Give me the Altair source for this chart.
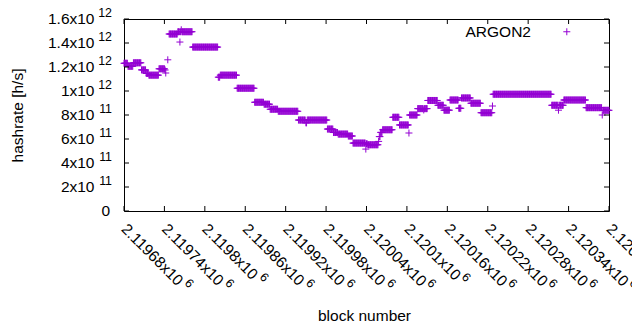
import altair as alt
import pandas as pd

# ---- data (hashrate in units of 1e12 h/s), constant runs of blocks ----
seg_start = [2119680, 2119686, 2119694, 2119706, 2119713, 2119717, 2119732, 2119747, 2119760,
             2119782, 2119820, 2119823, 2119848, 2119874, 2119888, 2119897, 2119909, 2119939,
             2119982, 2119991, 2119998, 2120013, 2120020, 2120039, 2120040, 2120042, 2120058,
             2120059, 2120061, 2120064, 2120079, 2120089, 2120103, 2120104, 2120116, 2120131,
             2120146, 2120155, 2120164, 2120177, 2120181, 2120195, 2120210, 2120227, 2120228,
             2120315, 2120333, 2120366, 2120390, 2120391]
seg_end = [2119685, 2119693, 2119705, 2119712, 2119716, 2119731, 2119740, 2119759, 2119781,
           2119819, 2119822, 2119847, 2119873, 2119887, 2119896, 2119908, 2119938, 2119981,
           2119990, 2119997, 2120012, 2120019, 2120038, 2120039, 2120041, 2120057, 2120058,
           2120060, 2120063, 2120078, 2120088, 2120102, 2120103, 2120115, 2120130, 2120145,
           2120154, 2120163, 2120176, 2120180, 2120194, 2120209, 2120226, 2120227, 2120314,
           2120332, 2120365, 2120389, 2120390, 2120400]
seg_value = [1.231, 1.206, 1.235, 1.176, 1.146, 1.132, 1.185, 1.475, 1.494,
             1.366, 1.115, 1.132, 1.023, 0.906, 0.890, 0.848, 0.831, 0.758,
             0.683, 0.654, 0.641, 0.625, 0.566, 0.516, 0.560, 0.552, 0.580,
             0.620, 0.655, 0.677, 0.781, 0.717, 0.650, 0.800, 0.853, 0.921,
             0.881, 0.840, 0.925, 0.856, 0.942, 0.898, 0.819, 0.875, 0.973,
             0.881, 0.925, 0.861, 0.800, 0.839]
# isolated single-block values
out_block = [2119741, 2119742, 2119745, 2119763, 2119765, 2119950, 2119951, 2120125, 2120325]
out_value = [1.175, 1.150, 1.260, 1.408, 1.510, 0.735, 0.735, 0.842, 0.840]

series_name = "ARGON2"

x_ticks = [2119680, 2119740, 2119800, 2119860, 2119920, 2119980, 2120040,
           2120100, 2120160, 2120220, 2120280, 2120340, 2120400]
x_tick_mant = ["2.11968x10", "2.11974x10", "2.1198x10", "2.11986x10", "2.11992x10",
               "2.11998x10", "2.12004x10", "2.1201x10", "2.12016x10", "2.12022x10",
               "2.12028x10", "2.12034x10", "2.1204x10"]
x_tick_exp = ["6"] * 13

y_ticks = [0, 2e11, 4e11, 6e11, 8e11, 1e12, 1.2e12, 1.4e12, 1.6e12]
y_tick_mant = ["0", "2x10", "4x10", "6x10", "8x10", "1x10", "1.2x10", "1.4x10", "1.6x10"]
y_tick_exp = ["", "11", "11", "11", "11", "12", "12", "12", "12"]

# ---- build tables ----
vals = {}
for s, e, v in zip(seg_start, seg_end, seg_value):
    for b in range(s, e + 1):
        vals[b] = v
for b, v in zip(out_block, out_value):
    vals[b] = v
df = pd.DataFrame({"block": list(vals.keys()),
                   "hashrate": [v * 1e12 for v in vals.values()],
                   "series": series_name})

tx = pd.DataFrame({"t": x_ticks, "mant": x_tick_mant, "exp": x_tick_exp,
                   "n": [len(m) for m in x_tick_mant]})
ty = pd.DataFrame({"t": y_ticks, "mant": y_tick_mant, "exp": y_tick_exp})

FONT = "Liberation Sans"
FS = 15.5
EFS = 12.4
PURPLE = "#9400d3"
PLUS = "M-1,0L1,0M0,-1L0,1"
# legend symbol drawn to the right of its label (gnuplot key style)
PLUS_KEY = "M31.3,0L33.3,0M32.3,-1L32.3,1"
W, H = 485, 192

xs = alt.Scale(domain=[2119680, 2120400], nice=False, zero=False)
ys = alt.Scale(domain=[0, 1.6e12], nice=False)

xax = alt.Axis(title="block number", labels=False, ticks=False, domain=False, grid=False,
               titleFont=FONT, titleFontSize=FS, titleFontWeight="normal", titleColor="black",
               titleX=240, titleY=104, titleAlign="center", titleBaseline="middle")
yax = alt.Axis(title="hashrate [h/s]", labels=False, ticks=False, domain=False, grid=False,
               titleFont=FONT, titleFontSize=FS, titleFontWeight="normal", titleColor="black",
               titleX=-107, titleY=96, titleAngle=270, titleAlign="center", titleBaseline="middle")

X = lambda f: alt.X(f, scale=xs, axis=xax)
Y = lambda f: alt.Y(f, scale=ys, axis=yax)

points = alt.Chart(df).mark_point(shape=PLUS, filled=False, size=49, strokeWidth=1, opacity=1).encode(
    x=X("block:Q"), y=Y("hashrate:Q"),
    color=alt.Color("series:N", scale=alt.Scale(range=[PURPLE]),
                    legend=alt.Legend(title=None, orient="none", legendX=322, legendY=5,
                                      symbolType=PLUS_KEY, symbolSize=49, symbolStrokeWidth=1,
                                      symbolStrokeColor=PURPLE, symbolFillColor="transparent",
                                      labelAlign="left", labelOffset=4,
                                      labelFont=FONT, labelFontSize=FS, labelColor="black",
                                      padding=0)))

base_x = alt.Chart(tx)
base_y = alt.Chart(ty)
tick_bottom = base_x.mark_rule(color="black", strokeWidth=1).encode(x=X("t:Q"), y=alt.value(H), y2=alt.value(H - 5))
tick_top = base_x.mark_rule(color="black", strokeWidth=1).encode(x=X("t:Q"), y=alt.value(0), y2=alt.value(5))
tick_left = base_y.mark_rule(color="black", strokeWidth=1).encode(y=Y("t:Q"), x=alt.value(0), x2=alt.value(5))
tick_right = base_y.mark_rule(color="black", strokeWidth=1).encode(y=Y("t:Q"), x=alt.value(W), x2=alt.value(W - 5))

xlab = base_x.mark_text(angle=45, align="left", baseline="middle", font=FONT, fontSize=FS,
                        color="black", dx=11, dy=11).encode(x=X("t:Q"), y=alt.value(H), text="mant:N")
xexp_long = base_x.transform_filter("datum.n >= 10").mark_text(
    angle=45, align="left", baseline="middle", font=FONT, fontSize=EFS, color="black",
    dx=94, dy=5).encode(x=X("t:Q"), y=alt.value(H), text="exp:N")
xexp_short = base_x.transform_filter("datum.n < 10").mark_text(
    angle=45, align="left", baseline="middle", font=FONT, fontSize=EFS, color="black",
    dx=85.5, dy=5).encode(x=X("t:Q"), y=alt.value(H), text="exp:N")

ylab = base_y.transform_filter("datum.exp != ''").mark_text(
    align="right", baseline="middle", font=FONT, fontSize=FS, color="black").encode(
    y=Y("t:Q"), x=alt.value(-29.5), text="mant:N")
yzero = base_y.transform_filter("datum.exp == ''").mark_text(
    align="right", baseline="middle", font=FONT, fontSize=FS, color="black").encode(
    y=Y("t:Q"), x=alt.value(-14), text="mant:N")
yexp = base_y.transform_filter("datum.exp != ''").mark_text(
    align="right", baseline="middle", font=FONT, fontSize=EFS, color="black", dy=-6).encode(
    y=Y("t:Q"), x=alt.value(-12), text="exp:N")

chart = alt.layer(points, tick_bottom, tick_top, tick_left, tick_right,
                  xlab, xexp_long, xexp_short, ylab, yzero, yexp).properties(
    width=W, height=H,
    padding={"left": 116, "top": 11, "right": 23, "bottom": 111},
    autosize=alt.AutoSizeParams(type="none"),
    background="white",
).configure_view(stroke="black", strokeWidth=1)

chart.save("out.html", embed_options={"renderer": "svg", "actions": False})
